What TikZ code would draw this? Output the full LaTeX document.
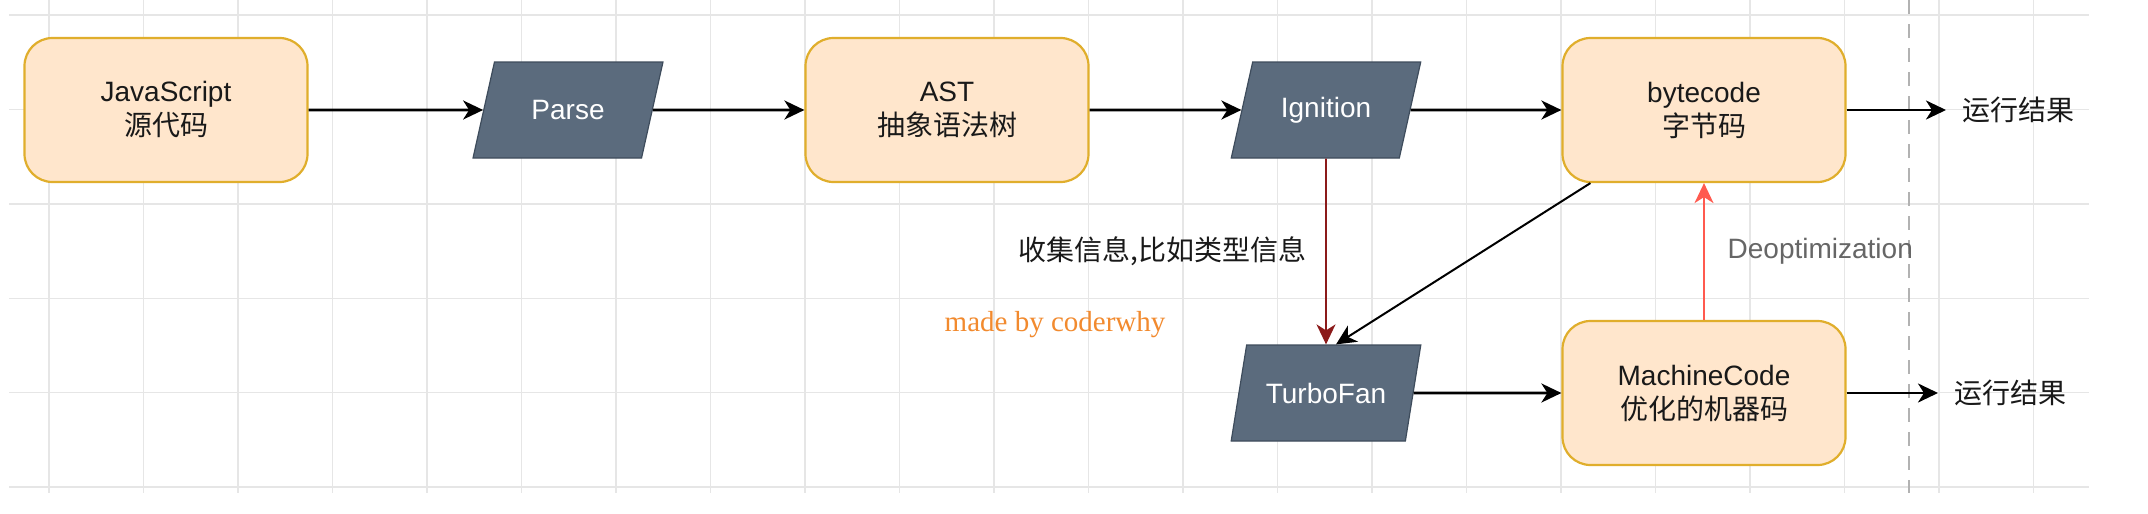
\documentclass[tikz,border=0pt]{standalone}
\usepackage{fontspec}
\setmainfont{Liberation Sans}
\newfontfamily\cjk{Noto Sans CJK SC}
\newfontfamily\madeby{Liberation Serif}
\usetikzlibrary{arrows.meta,shapes.geometric}

\definecolor{boxfill}{HTML}{FFE6CC}
\definecolor{boxline}{HTML}{E0AE2C}
\definecolor{parafill}{HTML}{5B6B7D}
\definecolor{paraline}{HTML}{3E4C5C}
\definecolor{gridgray}{HTML}{E6E6E6}
\definecolor{tracered}{HTML}{8B1A1A}
\definecolor{deoptred}{HTML}{FF5A4F}
\definecolor{madebyorange}{HTML}{F28A2E}

\begin{document}
\begin{tikzpicture}[x=0.5pt,y=-0.5pt,
    txt/.style={font=\fontsize{14pt}{17pt}\selectfont, text=black!90},
    codebox/.style={txt, draw=boxline, fill=boxfill, line width=1.1pt,
      rounded corners=14pt, minimum width=141.5pt, minimum height=72pt, align=center},
    stage/.style={txt, trapezium, trapezium left angle=69, trapezium right angle=111,
      trapezium stretches=true, draw=paraline, fill=parafill, text=white,
      minimum width=95pt, minimum height=48pt, line width=0.6pt},
    result/.style={txt, inner sep=8pt},
    flow/.style={-{Stealth[length=10pt,width=9.5pt,inset=3pt]}, line width=1.35pt},
    gridline/.style={gridgray, line width=0.7pt}]

        % Background and grid
        \fill[white] (0,0) rectangle (2148,514);
        \useasboundingbox (0,0) rectangle (2148,514);
        \foreach \i in {0,...,21}
          \draw[gridline] ({49+94.5*\i},0) -- ({49+94.5*\i},493);
        \foreach \j in {0,...,5}
          \draw[gridline] (9,{15+94.4*\j}) -- (2089,{15+94.4*\j});

        % Page break
        \draw[dashed, dash pattern=on 7pt off 5pt, gray!60, line width=0.8pt] (1909,0) -- (1909,493);

        % Top row
        \node[codebox] (js) at (166,110) {JavaScript\\{\cjk 源代码}};
        \node[stage] (parse) at (568,110) {Parse};
        \node[codebox] (ast) at (947,110) {AST\\{\cjk 抽象语法树}};
        \node[stage] (ignition) at (1326,110) {Ignition};
        \node[codebox] (bytecode) at (1704,110) {bytecode\\{\cjk 字节码}};
        \node[result, anchor=west] (res1) at (1946,110) {\cjk 运行结果};

        % Bottom row
        \node[stage] (turbofan) at (1326,393) {TurboFan};
        \node[codebox] (machine) at (1704,393) {MachineCode\\{\cjk 优化的机器码}};
        \node[result, anchor=west] (res2) at (1938,393) {\cjk 运行结果};

        % Watermark
        \node[font=\madeby\fontsize{14.5pt}{17pt}\selectfont, text=madebyorange] (mark) at (1055,325) {made by coderwhy};

        % Pipeline
        \draw[flow] (js) -- (parse);
        \draw[flow] (parse) -- (ast);
        \draw[flow] (ast) -- (ignition);
        \draw[flow] (ignition) -- (bytecode);
        \draw[flow] (bytecode) -- (res1);

        % Optimization
        \draw[flow, tracered, line width=0.8pt] (ignition.south) -- (turbofan.north)
          node[midway, left=6pt, txt] {\cjk 收集信息,比如类型信息};
        \draw[flow, line width=1pt] ([xshift=14.5pt]bytecode.south west) -- ([xshift=5pt]turbofan.north);
        \draw[flow] (turbofan) -- (machine);
        \draw[flow] (machine) -- (res2);

        % Deoptimization
        \draw[flow, deoptred, line width=1pt] (machine.north) -- (bytecode.south)
          node[midway, right=8pt, txt, text=black!60] {Deoptimization};
    \end{tikzpicture}
\end{document}
